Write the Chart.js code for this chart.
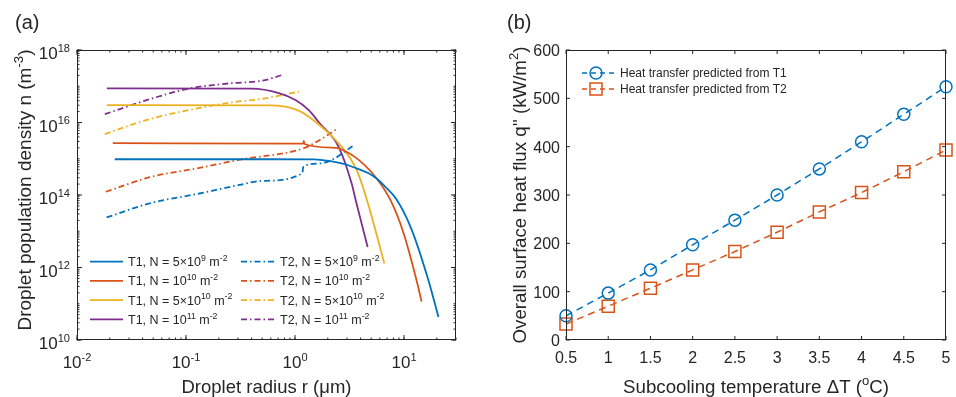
<!DOCTYPE html>
<html>
<head>
<meta charset="utf-8">
<script src="https://cdn.jsdelivr.net/npm/chart.js@4.4.0/dist/chart.umd.min.js"></script>
<style>
    html, body { margin: 0; padding: 0; background: #fff; }
    #wrap { position: relative; width: 956px; height: 397px; overflow: hidden; }
    .panel { position: absolute; top: 0; height: 397px; }
    #panelA { left: 0; width: 480px; }
    #panelB { left: 480px; width: 476px; }
</style>
</head>
<body>
<div id="wrap">
    <div class="panel" id="panelA"><canvas id="chartA" width="480" height="397"></canvas></div>
    <div class="panel" id="panelB"><canvas id="chartB" width="476" height="397"></canvas></div>
</div>
<script>
// ---------------- DATA: panel (a) ----------------
const xTicksA = [0.01, 0.1, 1, 10];
const yTicksA = [1e10, 1e12, 1e14, 1e16, 1e18];

const labelsA = [
    "T1, N = 5×10^{9} m^{-2}",
    "T1, N = 10^{10} m^{-2}",
    "T1, N = 5×10^{10} m^{-2}",
    "T1, N = 10^{11} m^{-2}",
    "T2, N = 5×10^{9} m^{-2}",
    "T2, N = 10^{10} m^{-2}",
    "T2, N = 5×10^{10} m^{-2}",
    "T2, N = 10^{11} m^{-2}"
];

// T1 (solid)
const rT1_5e9  = [0.0222, 0.58, 1.5, 2.05, 2.8, 3.68, 4.74, 5.61, 6.64, 8.55, 11.7, 16.7, 20.7];
const nT1_5e9  = [9.7e14, 9.7e14, 9.6e14, 8.7e14, 7.2e14, 5.4e14, 4.0e14, 2.85e14, 1.77e14, 7.5e13, 1.15e13, 4.6e11, 4.3e10];
const rT1_1e10 = [0.0213, 1.19, 1.205, 1.22, 2.37, 3.11, 3.84, 5.5, 7.5, 9.9, 13.0, 14.5];
const nT1_1e10 = [2.7e15, 2.6e15, 3.1e15, 2.55e15, 2.0e15, 1.44e15, 9.3e14, 3.1e14, 7.3e13, 9e12, 4.6e11, 1.15e11];
const rT1_5e10 = [0.0188, 0.6, 1.01, 1.34, 2.69, 3.68, 4.57, 6.6];
const nT1_5e10 = [3.0e16, 2.95e16, 2.3e16, 1.45e16, 2.1e15, 4.9e14, 7.3e13, 1.3e12];
const rT1_1e11 = [0.0188, 0.4, 0.71, 1.01, 1.34, 1.66, 2.52, 3.32, 3.6, 4.64];
const nT1_1e11 = [8.7e16, 8.6e16, 6.5e16, 4.2e16, 2.2e16, 1.0e16, 2.1e15, 2.0e14, 7.3e13, 3.7e12];

// T2 (dash-dot)
const rT2_5e9  = [0.0187, 0.0465, 0.133, 0.31, 0.5, 1.17, 1.19, 1.66, 2.18, 3.39];
const nT2_5e9  = [2.4e13, 5.9e13, 1.1e14, 1.9e14, 2.45e14, 4.0e14, 6.0e14, 7.4e14, 9.3e14, 2.25e15];
const rT2_1e10 = [0.0184, 0.0465, 0.133, 0.31, 1.2, 1.66, 2.42];
const nT2_1e10 = [1.23e14, 3.1e14, 5.6e14, 9.4e14, 1.95e15, 3.2e15, 6.6e15];
const rT2_5e10 = [0.018, 0.0465, 0.25, 0.5, 1.09];
const nT2_5e10 = [4.8e15, 1.24e16, 3.5e16, 4.5e16, 7.1e16];
const rT2_1e11 = [0.018, 0.0465, 0.108, 0.25, 0.5, 0.76];
const nT2_1e11 = [1.7e16, 4.4e16, 8.7e16, 1.2e17, 1.42e17, 2.04e17];

// ---------------- DATA: panel (b) ----------------
const deltaT = [0.5, 1, 1.5, 2, 2.5, 3, 3.5, 4, 4.5, 5];
const qFromT1 = [50, 97, 145, 197, 248, 300, 354, 410, 467, 524];
const qFromT2 = [33, 70, 107, 145, 183, 223, 265, 305, 348, 393];
const labelsB = ["Heat transfer predicted from T1", "Heat transfer predicted from T2"];
const xTicksB = [0.5, 1, 1.5, 2, 2.5, 3, 3.5, 4, 4.5, 5];
const yTicksB = [0, 100, 200, 300, 400, 500, 600];

// ---------------- STYLE ----------------
const FONT = '"Liberation Sans", Arial, Helvetica, sans-serif';
const INK = "#262626";
const BLUE = "#0072BD", ORANGE = "#D95319", YELLOW = "#EDB120", PURPLE = "#7E2F8E";
const DASHDOT = [6, 3, 1.5, 3];

// ---------------- TEXT HELPERS ----------------
// "10^{-2}" -> [["10", false], ["-2", true]]
function richParts(str) {
    const parts = [];
    const re = /\^\{([^}]*)\}/g;
    let last = 0, m;
    while ((m = re.exec(str))) {
        if (m.index > last) parts.push([str.slice(last, m.index), false]);
        parts.push([m[1], true]);
        last = re.lastIndex;
    }
    if (last < str.length) parts.push([str.slice(last), false]);
    return parts;
}

function drawRich(ctx, str, x, y, size, align, supScale = 0.7) {
    const parts = richParts(str);
    const supSize = size * supScale;
    const widths = parts.map(([t, sup]) => {
        ctx.font = (sup ? supSize : size) + "px " + FONT;
        return ctx.measureText(t).width;
    });
    const total = widths.reduce((a, b) => a + b, 0);
    let cx = align === "center" ? x - total / 2 : align === "right" ? x - total : x;
    ctx.textAlign = "left";
    ctx.textBaseline = "alphabetic";
    parts.forEach(([t, sup], i) => {
        ctx.font = (sup ? supSize : size) + "px " + FONT;
        ctx.fillText(t, cx, sup ? y - size * 0.42 : y);
        cx += widths[i];
    });
    return total;
}

function expLabel(v) {
    return "10^{" + Math.round(Math.log10(v)) + "}";
}

function logMinor(min, max) {
    const out = [];
    for (let e = Math.floor(Math.log10(min)); e <= Math.ceil(Math.log10(max)); e++) {
        for (let k = 1; k <= 9; k++) {
            const v = k * Math.pow(10, e);
            if (v >= min * 0.999 && v <= max * 1.001) out.push(v);
        }
    }
    return out;
}

function drawTicks(ctx, a, scale, values, len, axis) {
    ctx.beginPath();
    values.forEach(v => {
        const p = scale.getPixelForValue(v);
        if (axis === "x") {
            ctx.moveTo(p, a.bottom); ctx.lineTo(p, a.bottom - len);
            ctx.moveTo(p, a.top); ctx.lineTo(p, a.top + len);
        } else {
            ctx.moveTo(a.left, p); ctx.lineTo(a.left + len, p);
            ctx.moveTo(a.right, p); ctx.lineTo(a.right - len, p);
        }
    });
    ctx.stroke();
}

function rotatedTitle(ctx, str, x, y, size) {
    ctx.save();
    ctx.translate(x, y);
    ctx.rotate(-Math.PI / 2);
    drawRich(ctx, str, 0, 0, size, "center");
    ctx.restore();
}

// ---------------- PANEL (a) ----------------
function pts(rs, ns) {
    return rs.map((r, i) => ({ x: r, y: ns[i] }));
}

const seriesA = [
    [rT1_5e9, nT1_5e9, BLUE, []],
    [rT1_1e10, nT1_1e10, ORANGE, []],
    [rT1_5e10, nT1_5e10, YELLOW, []],
    [rT1_1e11, nT1_1e11, PURPLE, []],
    [rT2_5e9, nT2_5e9, BLUE, DASHDOT],
    [rT2_1e10, nT2_1e10, ORANGE, DASHDOT],
    [rT2_5e10, nT2_5e10, YELLOW, DASHDOT],
    [rT2_1e11, nT2_1e11, PURPLE, DASHDOT]
];

const axesA = {
    id: "axesA",
    afterDraw(chart) {
        const { ctx, chartArea: a, scales: { x, y } } = chart;
        ctx.save();
        ctx.strokeStyle = INK;
        ctx.fillStyle = INK;
        ctx.lineWidth = 1;
        drawTicks(ctx, a, x, logMinor(x.min, x.max), 2.5, "x");
        drawTicks(ctx, a, y, logMinor(y.min, y.max), 2.5, "y");
        drawTicks(ctx, a, x, xTicksA, 5, "x");
        drawTicks(ctx, a, y, yTicksA, 5, "y");
        ctx.strokeRect(a.left + 0.5, a.top + 0.5, a.right - a.left - 1, a.bottom - a.top - 1);

        x.ticks.forEach(t => drawRich(ctx, expLabel(t.value), x.getPixelForValue(t.value), a.bottom + 28, 17, "center", 0.65));
        y.ticks.forEach(t => drawRich(ctx, expLabel(t.value), a.left - 7, y.getPixelForValue(t.value) + 9, 17, "right", 0.65));

        drawRich(ctx, "Droplet radius r (μm)", (a.left + a.right) / 2, 393, 18.5, "center");
        rotatedTitle(ctx, "Droplet population density n (m^{-3})", 31, 190, 19);
        drawRich(ctx, "(a)", 15, 29, 20, "left");

        // legend, two columns of four
        chart.data.datasets.forEach((ds, i) => {
            const col = i < 4 ? 0 : 1;
            const rowY = 261.7 + (i % 4) * 19.2;
            const x0 = col === 0 ? 90 : 241;
            const x1 = col === 0 ? 123 : 277;
            ctx.save();
            ctx.strokeStyle = ds.borderColor;
            ctx.lineWidth = ds.borderWidth;
            ctx.setLineDash(ds.borderDash);
            ctx.beginPath();
            ctx.moveTo(x0, rowY);
            ctx.lineTo(x1, rowY);
            ctx.stroke();
            ctx.restore();
            drawRich(ctx, labelsA[i], col === 0 ? 128 : 280, rowY + 4.5, 12.5, "left");
        });
        ctx.restore();
    }
};

new Chart(document.getElementById("chartA"), {
    type: "line",
    data: {
        datasets: seriesA.map(([rs, ns, color, dash], i) => ({
            label: labelsA[i],
            data: pts(rs, ns),
            borderColor: color,
            borderWidth: 1.8,
            borderDash: dash,
            pointRadius: 0,
            fill: false,
            cubicInterpolationMode: "monotone"
        }))
    },
    options: {
        responsive: false,
        animation: false,
        devicePixelRatio: 1,
        layout: { padding: { top: 50, right: 24, left: 0, bottom: 0 } },
        plugins: { legend: { display: false }, tooltip: { enabled: false } },
        scales: {
            x: {
                type: "logarithmic", min: 0.01, max: 30,
                ticks: { display: false },
                grid: { display: false },
                border: { display: false },
                afterBuildTicks: s => { s.ticks = xTicksA.map(v => ({ value: v })); },
                afterFit: s => { s.height = 57; }
            },
            y: {
                type: "logarithmic", min: 1e10, max: 1e18,
                ticks: { display: false },
                grid: { display: false },
                border: { display: false },
                afterBuildTicks: s => { s.ticks = yTicksA.map(v => ({ value: v })); },
                afterFit: s => { s.width = 77; }
            }
        }
    },
    plugins: [axesA]
});

// ---------------- PANEL (b) ----------------
const axesB = {
    id: "axesB",
    afterDraw(chart) {
        const { ctx, chartArea: a, scales: { x, y } } = chart;
        ctx.save();
        ctx.strokeStyle = INK;
        ctx.fillStyle = INK;
        ctx.lineWidth = 1;
        drawTicks(ctx, a, x, xTicksB, 4, "x");
        drawTicks(ctx, a, y, yTicksB, 4, "y");
        ctx.strokeRect(a.left + 0.5, a.top + 0.5, a.right - a.left - 1, a.bottom - a.top - 1);

        x.ticks.forEach(t => drawRich(ctx, String(t.value), x.getPixelForValue(t.value), a.bottom + 23, 16, "center"));
        y.ticks.forEach(t => drawRich(ctx, String(t.value), a.left - 6, y.getPixelForValue(t.value) + 6, 16, "right"));

        drawRich(ctx, "Subcooling temperature ΔT (^{o}C)", (a.left + a.right) / 2, 393, 18.7, "center");
        rotatedTitle(ctx, "Overall surface heat flux q'' (kW/m^{2})", 46, 195, 18.7);
        drawRich(ctx, "(b)", 27, 29, 20, "left");

        // legend
        chart.data.datasets.forEach((ds, i) => {
            const rowY = 73 + i * 16;
            ctx.save();
            ctx.strokeStyle = ds.borderColor;
            ctx.lineWidth = ds.borderWidth;
            ctx.setLineDash([5, 4]);
            ctx.beginPath();
            ctx.moveTo(102, rowY);
            ctx.lineTo(137, rowY);
            ctx.stroke();
            ctx.setLineDash([]);
            ctx.beginPath();
            if (ds.pointStyle === "circle") {
                ctx.arc(116, rowY, ds.pointRadius, 0, Math.PI * 2);
            } else {
                const h = ds.pointRadius * Math.SQRT1_2;
                ctx.rect(116 - h, rowY - h, 2 * h, 2 * h);
            }
            ctx.stroke();
            ctx.restore();
            drawRich(ctx, labelsB[i], 140, rowY + 4.3, 12, "left");
        });
        ctx.restore();
    }
};

new Chart(document.getElementById("chartB"), {
    type: "line",
    data: {
        datasets: [
            {
                label: labelsB[0],
                data: deltaT.map((t, i) => ({ x: t, y: qFromT1[i] })),
                borderColor: BLUE,
                borderWidth: 1.5,
                borderDash: [7, 5],
                pointStyle: "circle",
                pointRadius: 6,
                pointBorderWidth: 1.5,
                pointBorderColor: BLUE,
                pointBackgroundColor: "rgba(0,0,0,0)",
                clip: false
            },
            {
                label: labelsB[1],
                data: deltaT.map((t, i) => ({ x: t, y: qFromT2[i] })),
                borderColor: ORANGE,
                borderWidth: 1.5,
                borderDash: [7, 5],
                pointStyle: "rect",
                pointRadius: 8.5,
                pointBorderWidth: 1.5,
                pointBorderColor: ORANGE,
                pointBackgroundColor: "rgba(0,0,0,0)",
                clip: false
            }
        ]
    },
    options: {
        responsive: false,
        animation: false,
        devicePixelRatio: 1,
        layout: { padding: { top: 50, right: 5, left: 0, bottom: 0 } },
        plugins: { legend: { display: false }, tooltip: { enabled: false } },
        scales: {
            x: {
                type: "linear", min: 0.5, max: 5,
                ticks: { display: false },
                grid: { display: false },
                border: { display: false },
                afterBuildTicks: s => { s.ticks = xTicksB.map(v => ({ value: v })); },
                afterFit: s => { s.height = 57; }
            },
            y: {
                type: "linear", min: 0, max: 600,
                ticks: { display: false },
                grid: { display: false },
                border: { display: false },
                afterBuildTicks: s => { s.ticks = yTicksB.map(v => ({ value: v })); },
                afterFit: s => { s.width = 86; }
            }
        }
    },
    plugins: [axesB]
});
</script>
</body>
</html>
